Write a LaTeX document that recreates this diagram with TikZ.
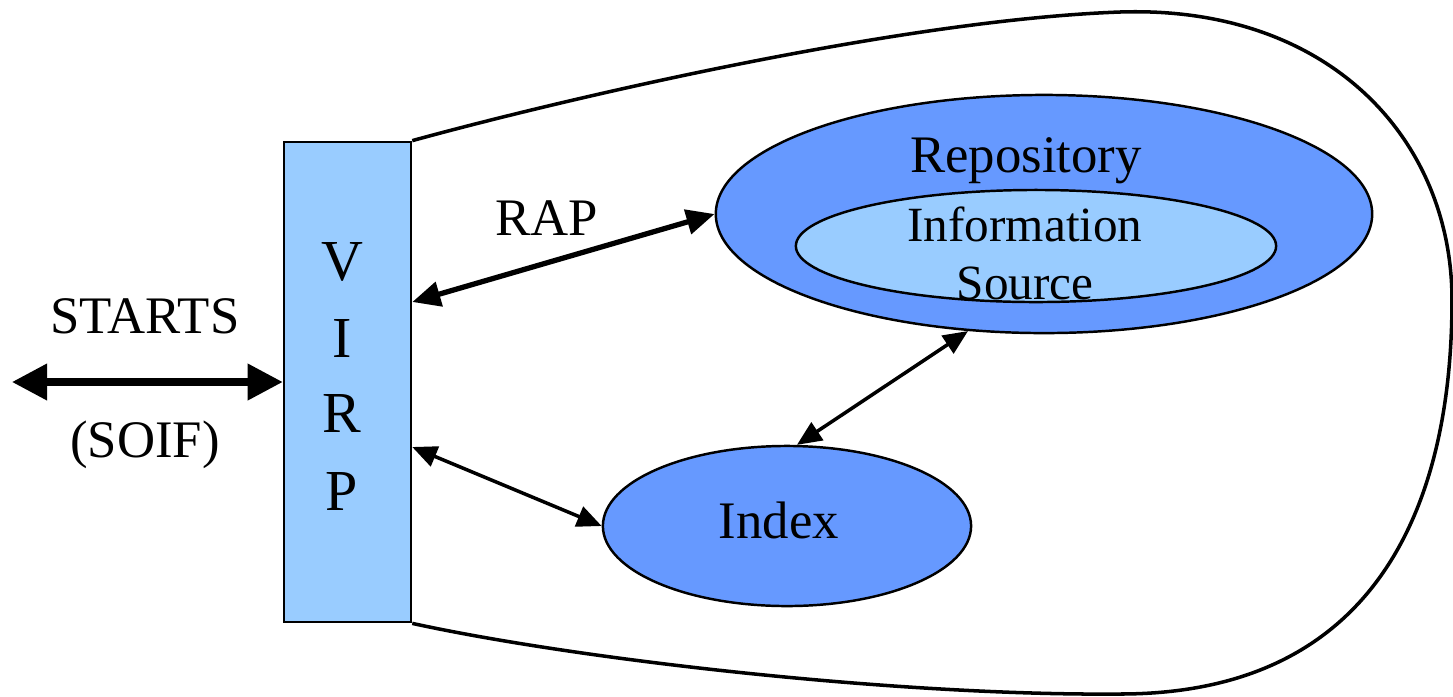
\documentclass[tikz,border=0pt]{standalone}
\usepackage{fontspec}
\setmainfont{Liberation Serif}
\usetikzlibrary{arrows.meta,shapes.geometric}
\definecolor{lightblue}{HTML}{99CCFF}
\definecolor{midblue}{HTML}{6699FF}
\tikzset{
  lbl/.style={font=\fontsize{15pt}{17pt}\selectfont, anchor=base, inner sep=0pt},
  letter/.style={font=\fontsize{16.5pt}{18pt}\selectfont, anchor=base, inner sep=0pt},
  blob/.style={ellipse, draw=black, line width=0.7pt, inner sep=0pt},
  bigarrow/.style={line width=2pt, {Triangle[length=10pt,width=10pt]}-{Triangle[length=10pt,width=10pt]}},
  medarrow/.style={line width=1.5pt, {Triangle[length=8pt,width=7pt]}-{Triangle[length=8pt,width=7pt]}},
  smallarrow/.style={line width=1pt, {Triangle[length=7pt,width=6pt]}-{Triangle[length=7pt,width=6pt]}},
  virpbox/.style={draw=black, line width=0.7pt, fill=lightblue, minimum width=1.27cm, minimum height=4.80cm, inner sep=0pt},
}
\begin{document}
\begin{tikzpicture}[x=0.01cm,y=-0.01cm]
\useasboundingbox (0,0) rectangle (1453,696);
% VIRP box
\node[virpbox] (virp) at (347.5,382) {};
% outer boundary
\draw[line width=1pt] (virp.north east) .. controls (560,100) and (900,20) .. (1120,12)
  .. controls (1330,5) and (1452,140) .. (1452,300)
  .. controls (1452,500) and (1380,694) .. (1120,694)
  .. controls (900,696) and (580,660) .. (virp.south east);
\node[virpbox] (virpfront) at (347.5,382) {};
\node[letter] (lv) at (342,280) {V};
\node[letter] (li) at (342,357) {I};
\node[letter] (lr) at (342,432) {R};
\node[letter] (lp) at (342,510) {P};
% Repository
\node[blob, fill=midblue, minimum width=6.56cm, minimum height=2.38cm] (repo) at (1044,214) {};
\node[blob, fill=lightblue, minimum width=4.80cm, minimum height=1.12cm] (src) at (1036,246) {};
\node[lbl] (trepo) at (1026,172) {Repository};
\node[lbl, font=\fontsize{14pt}{16pt}\selectfont] (tinfo) at (1025,241) {Information};
\node[lbl, font=\fontsize{14pt}{16pt}\selectfont] (tsrc) at (1025,299) {Source};
% Index
\node[blob, fill=midblue, minimum width=3.68cm, minimum height=1.60cm] (index) at (787,526) {};
\node[lbl] (tindex) at (779,538) {Index};
% labels
\node[lbl] (starts) at (145,333) {STARTS};
\node[lbl] (soif) at (145,457) {(SOIF)};
\node[lbl] (rap) at (547,235) {RAP};
% arrows
\coordinate (sl) at (12,382);
\coordinate (rapv) at (virp.east |- 0,302);
\coordinate (idxv) at (virp.east |- 0,447);
\draw[bigarrow] (sl) -- (virp.west);
\draw[medarrow] (rapv) -- (repo.west);
\draw[smallarrow] (idxv) -- (index.west);
\draw[smallarrow] (index.83) -- (repo.237);
\end{tikzpicture}
\end{document}
